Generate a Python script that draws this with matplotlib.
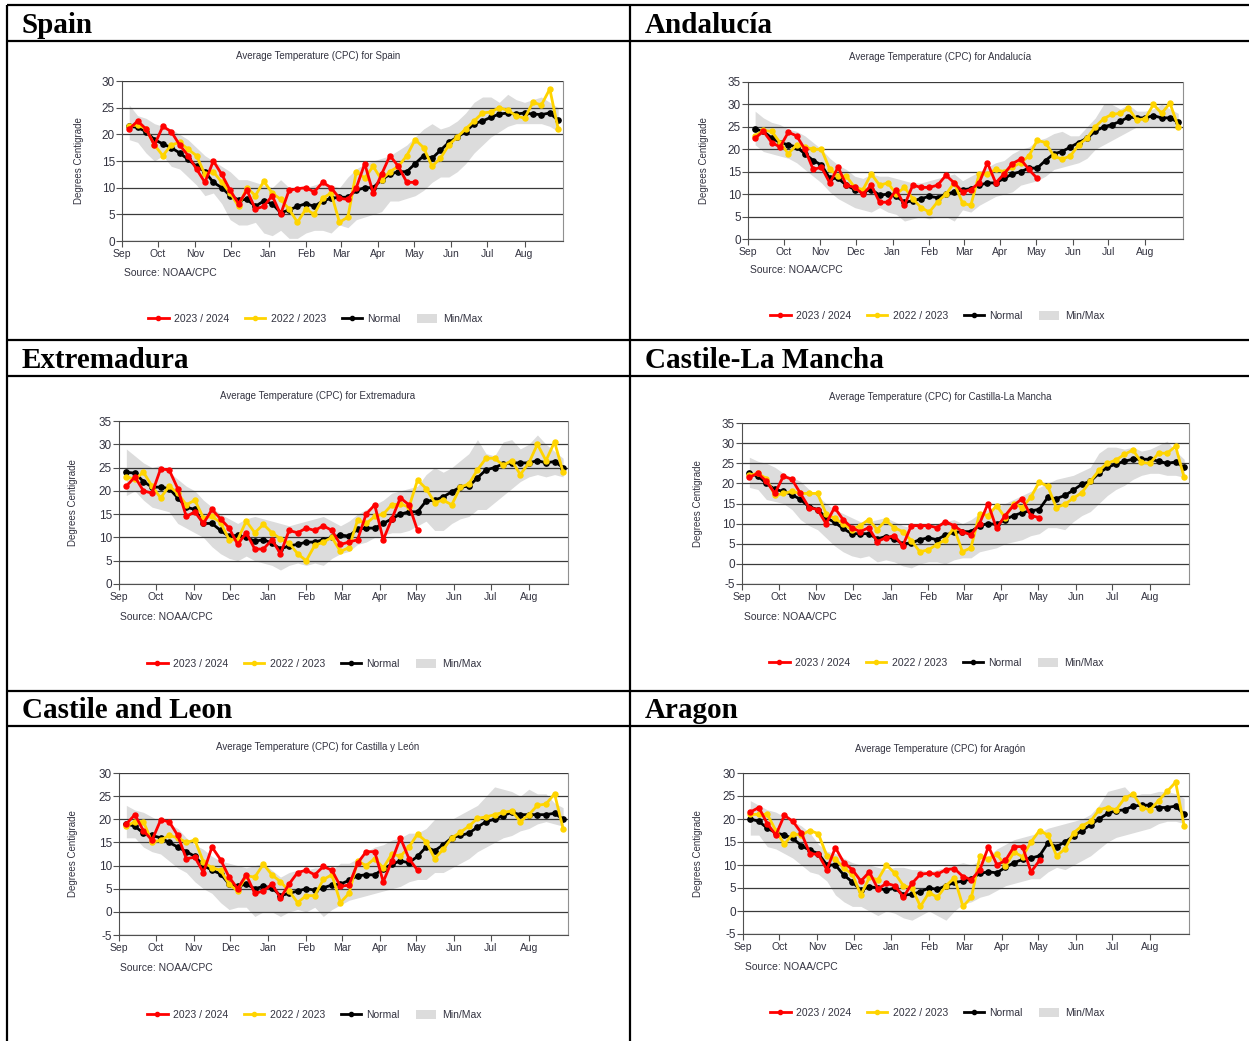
import matplotlib
matplotlib.use('Agg')
import matplotlib.pyplot as plt
from matplotlib.lines import Line2D
from matplotlib.patches import Patch
import pandas as pd

plt.rcParams['font.family'] = ['Liberation Sans', 'DejaVu Sans']
plt.rcParams['axes.unicode_minus'] = False

W, H = 1249, 1041

# weekly dates of the season (Sep -> Aug)
weeks = pd.date_range('2023-09-07', periods=52, freq='7D')
months = pd.date_range('2023-09-01', periods=12, freq='MS')
month_labels = ['Sep', 'Oct', 'Nov', 'Dec', 'Jan', 'Feb', 'Mar', 'Apr', 'May', 'Jun', 'Jul', 'Aug']
series_labels = ['2023 / 2024', '2022 / 2023', 'Normal', 'Min/Max']

# ---- Spain
spain_2324 = [21, 22.5, 21, 18, 21.5, 20.5, 18, 16, 13.5, 11, 15, 12.5, 9.5, 7, 9.5, 6, 6.5, 8.5, 5, 9.5,
              9.8, 10, 9.2, 11, 10, 8, 7.8, 10, 14.5, 9, 12.5, 16, 14, 11, 11]
spain_2223 = [21.5, 21.8, 21, 18, 16, 18, 18.5, 17.2, 16, 12.5, 13, 11, 9, 6.5, 10, 8.5, 11.2, 9, 7.8, 6,
              3.5, 6, 5, 8, 9, 3.5, 4.5, 13, 11.8, 14, 11.5, 13, 14, 16, 19, 17.5, 14, 15.5, 18, 19.5,
              21, 22.5, 24, 24.2, 25, 24.5, 23.5, 23, 26, 25.5, 28.5, 21]
spain_norm = [21.5, 21.3, 20.5, 19, 18.2, 17.5, 16.5, 15.3, 14, 13, 11, 10, 8.5, 7.7, 7.8, 6.5, 7.5, 7, 5.3, 5.8,
              6.5, 7, 6.5, 7.5, 8, 8.2, 8.2, 9.5, 10, 10, 11.5, 12.5, 13, 13, 14.5, 16, 15.5, 17, 18.5, 19.5,
              20.5, 22, 22.5, 23.2, 23.8, 24, 23.8, 24, 23.8, 23.7, 24, 22.6]
spain_max = [25.5, 23.5, 23, 22, 21.5, 21, 20, 19, 17.5, 16, 15, 14, 13, 11.5, 11.5, 11, 10.5, 10, 11.5, 10,
             9.5, 10, 10.5, 11, 10.5, 10, 12, 13.5, 14.5, 15, 15.5, 16, 17, 18, 19.5, 21, 22, 21, 21.5, 22.5,
             24, 26, 27, 27, 26, 27.5, 26.5, 26, 26.5, 27, 26, 25]
spain_min = [19, 18.5, 16.5, 15, 16, 14, 13.5, 12, 10.5, 8.5, 9, 7, 4, 3, 3, 3.5, 1.5, 1, 2, 0.5,
             0.5, 1.5, 2, 2, 1.5, 3, 2.5, 4, 4.5, 5, 5.5, 7.5, 7.5, 8, 8.5, 9.5, 11, 12, 12, 13,
             14.5, 16.5, 18, 19.5, 20.5, 21.5, 22, 22, 22, 22, 21.5, 20.5]

# ---- Andalucia
anda_2324 = [22.5, 24, 21.5, 20.5, 23.8, 23, 20, 15.5, 16, 12.5, 16, 12, 11.5, 10, 12, 8.2, 8.2, 11, 7.5, 12,
             11.5, 11.5, 12, 14.2, 12.5, 10.5, 11, 12.5, 17, 12.5, 14.5, 16.8, 17.8, 15.5, 13.5]
anda_2223 = [23, 24.2, 24, 21.5, 19, 21, 20.5, 20, 20, 15.5, 14, 14, 11.5, 11, 14.5, 12, 12.5, 10, 11.5, 9,
             7, 6, 8.3, 10, 12.5, 8, 7.5, 14.5, 14.5, 15.5, 15, 16, 17, 18.5, 22, 21.5, 18.5, 17.8, 18.5, 21,
             22.5, 25, 26.8, 27.8, 28, 29.2, 26.5, 26.8, 30, 28, 30.3, 25]
anda_norm = [24.5, 24, 22.5, 21.5, 21, 20.5, 19, 17.5, 16.5, 13.5, 13.5, 12, 11, 10.5, 11, 9.8, 10, 9.5, 8.2, 8.5,
             9, 9.5, 9.2, 10, 10.5, 11, 11.2, 12, 12.5, 12.5, 13.5, 14.5, 15, 15.8, 15.8, 17.5, 19, 19.5, 20.5, 21.5,
             22.5, 24, 25, 25.5, 26.2, 27.2, 27, 27, 27.5, 27, 27, 26]
anda_max = [28.5, 27, 26, 25.5, 24.5, 24, 23, 21.5, 20, 18, 16.5, 15.5, 14, 13.5, 14.5, 14, 14, 13.5, 13, 12.5,
            12.5, 13, 13.5, 14, 14.5, 13, 14, 15, 16, 17, 17.5, 19, 20, 20.5, 22, 22.5, 23.5, 24, 23, 23,
            25, 27, 30, 30, 29, 30, 28.5, 28.5, 29, 30, 29, 28]
anda_min = [21, 19.5, 19, 18.5, 18, 17, 15.5, 14, 12.5, 10.5, 9, 8, 7, 6.5, 6, 7, 6, 5.5, 4, 4.5,
            5, 4.5, 5, 5, 4, 6.5, 6, 7.5, 8.5, 9.5, 10, 10.5, 12, 12.5, 13, 14, 15.5, 16, 16.5, 17,
            18, 20, 21, 22, 23, 24, 25, 25, 25, 25, 25, 24.5]

# ---- Extremadura
extr_2324 = [21, 23, 20, 19.5, 24.7, 24.5, 20.5, 14.5, 15.5, 13, 16, 14, 12, 8.5, 11, 7.5, 7.5, 9.5, 6.5, 11.5,
             11, 12, 11.5, 12.5, 11.5, 8.5, 9, 9.5, 15, 17, 9.5, 14, 18.5, 17, 11.5]
extr_2223 = [23, 22.5, 24, 21, 18.5, 21, 19.5, 17, 18, 14.2, 14.5, 13.2, 9.5, 9.5, 13.5, 11, 12.8, 11, 9.7, 8.8,
             6.5, 5, 8.3, 9, 10, 7, 7.8, 13.7, 13, 14.5, 15, 17, 17.2, 16.5, 22.3, 20.5, 17.5, 18, 17, 20.8,
             21.5, 24.5, 27, 27, 25.5, 26.5, 23.5, 26, 30, 26.5, 30.5, 24]
extr_norm = [24, 23.8, 22, 20.8, 20.8, 20.5, 18.5, 16.5, 16, 13, 13, 11.5, 10.2, 10.5, 10, 9.2, 9.5, 8.8, 7.5, 8.2,
             8.5, 9, 9, 9.5, 10, 10.5, 10.3, 11.8, 12, 12, 13, 14, 15, 15.5, 15.5, 17.8, 18, 18.7, 19.8, 20.8,
             21, 22.8, 24.5, 25, 25.8, 26, 26, 26, 26.5, 26, 26.3, 25]
extr_max = [29, 27.5, 26, 25, 25.5, 24, 22.5, 21, 20, 18, 16.5, 15, 14, 13, 14, 14.5, 14, 13.5, 13, 12.5,
            13, 13.5, 14, 14.5, 13.5, 12.5, 13.5, 15, 16, 17, 18, 19.5, 20, 20.5, 21, 23.5, 25, 24, 25, 26.5,
            28, 31, 28, 27.5, 30.5, 31, 29, 30, 32, 30, 28.5, 27]
extr_min = [19, 20, 18, 16.5, 16, 15.5, 13, 12, 11, 10, 8, 6.5, 5.5, 5, 6, 5, 4.5, 4, 3, 4,
            4.5, 4, 4.5, 4, 5.5, 6.5, 7, 8.5, 9, 10, 10.5, 11, 11, 11.5, 12.5, 13.5, 11.5, 11.5, 13, 14,
            14.5, 16, 16, 17.5, 19, 20.5, 22, 23, 23.5, 23, 23.5, 23]

# ---- Castilla-La Mancha
clm_2324 = [21.5, 22.5, 20.5, 17.5, 21.8, 21, 17.5, 14, 13.5, 10, 14, 11, 9, 8, 9, 5.5, 6.5, 7, 4.5, 9.5,
            9.5, 9.5, 9, 10.5, 9.5, 8, 7.2, 10, 15, 8.8, 12, 14.5, 16.2, 12, 11.5]
clm_2223 = [22, 22.5, 21.2, 17, 17.5, 18, 17.5, 17.5, 17.5, 12.5, 11.3, 10, 8.5, 9.5, 11, 8.5, 10.8, 9, 8, 5.8,
            3, 3.5, 4.8, 6, 9, 3, 4, 12.5, 12, 14.5, 11.5, 15, 14, 16.5, 20.3, 19.3, 14, 14.8, 16.3, 17.7,
            20.5, 23.2, 25, 25.8, 27.2, 28.3, 25.2, 25, 27.5, 27.5, 29.2, 21.5]
clm_norm = [22.5, 21.8, 20, 18.5, 18, 17.2, 16, 14.2, 13.5, 11.5, 10.3, 8.8, 7.5, 7.5, 7.5, 6.2, 6.8, 6.2, 5, 5.2,
            6, 6.5, 6, 7.2, 7.8, 8, 8, 9.5, 10, 9.8, 11, 12, 12.7, 13.2, 13.5, 16.5, 16.2, 17, 18.3, 19.8,
            20.5, 22.5, 24, 24.8, 25.5, 26, 26, 26, 25.5, 25, 25.3, 24]
clm_max = [26.5, 25.5, 25, 24, 22.5, 21.5, 20.5, 18.5, 17, 15, 13.5, 12.5, 11.5, 10.5, 10.5, 11, 11.5, 10.5, 9.5, 9,
           9.5, 10, 10, 10.5, 11, 10, 11, 12.5, 13.5, 14, 15, 16, 17, 18, 19, 20, 21, 21.5, 22, 23,
           24, 27.5, 29, 29, 28.5, 29, 28, 28.5, 29.5, 30.5, 28, 26]
clm_min = [19, 18.5, 16, 15.5, 15, 13.5, 11, 9.5, 8.5, 6.5, 4.5, 3, 2, 1.5, 2, 0.5, 1, 0.5, -0.5, -1,
           0, 0.5, 0.5, 0, 1, 1.5, 1.5, 3, 3.5, 4, 5, 5.5, 6, 7, 7.5, 9, 9, 8.5, 10.5, 12,
           13, 15, 17, 18.5, 19.5, 21, 22, 22.5, 22.5, 22, 22, 21.5]

# ---- Castilla y Leon
cyl_2324 = [19, 21, 17.5, 15.5, 19.8, 19.5, 16.5, 11.5, 11.8, 8.5, 14, 11.3, 7.5, 5, 8, 4, 4.5, 6, 3, 6,
            8.5, 9, 8, 9.8, 9, 5.5, 5.8, 10.5, 13, 13, 6.5, 11, 16, 11.5, 9]
cyl_2223 = [18.5, 19.5, 19.5, 15, 15.5, 16.5, 16, 15, 15.5, 10.8, 9.5, 9, 6, 4.5, 7.8, 7.5, 10.3, 8, 6.5, 4.5,
            2, 3.5, 3.5, 7, 8, 2, 4, 11, 10, 11.5, 9.5, 12.5, 12, 14, 16.8, 15.2, 11.5, 13.5, 16, 17.2,
            18.5, 20.2, 20.5, 21, 21.5, 21.8, 19.5, 21, 23, 23.3, 25.5, 18]
cyl_norm = [19, 18.5, 17, 16.5, 16, 15, 14, 13, 12, 10, 9, 8.2, 6, 5.5, 6, 5, 5.5, 5.2, 3.5, 4,
            4.5, 5, 4.7, 5.2, 5.8, 6, 6.8, 7.8, 8, 8, 9.3, 10.3, 11, 10.6, 12, 14, 13.2, 14.5, 16, 16.5,
            17, 18.3, 19.5, 20, 20.8, 21.5, 21, 21, 21, 21, 21.3, 20]
cyl_max = [23, 22, 21.5, 20.5, 19.5, 19, 18, 16, 14.5, 13.5, 12, 11, 10.5, 10, 9.5, 10, 10.5, 9, 7.5, 8.5,
           9, 9, 9.5, 9.5, 9, 10.5, 10.5, 11.5, 13, 14, 14.5, 15.5, 16, 17, 17, 18, 20, 20, 20, 21,
           22, 23, 25, 27, 26.5, 26, 25, 26.5, 25.5, 25.5, 23.5, 22.5]
cyl_min = [16, 16, 14, 13, 12.5, 11, 9.5, 8.5, 6.5, 5, 4, 2, 0.5, 1, 1, -1, 0, 0, -1, 0,
           0.5, 0, 1, -1, 0.5, 1.5, 2.5, 3, 3.5, 4, 4.5, 5, 5.5, 6.5, 7, 7, 8.5, 8.5, 9.5, 10.5,
           11.5, 13, 14, 15, 16, 16.5, 17.5, 18, 19, 19.5, 19, 18.5]

# ---- Aragon
arag_2324 = [21.5, 22.5, 19, 16.5, 20.8, 19.5, 17, 12.5, 12.3, 9, 13.8, 10.5, 9, 6.5, 8.5, 4.8, 6, 5.5, 3, 6,
             8, 8.2, 8, 9, 9.2, 7.5, 6.8, 9, 14, 10, 11, 14, 14, 8.5, 11]
arag_2223 = [21, 21, 21, 17.5, 14.5, 16.8, 16.5, 17.5, 16.8, 12, 11.3, 9.3, 8, 3.5, 7.3, 6.8, 10, 8.2, 5.5, 5,
             1, 4, 3, 5.5, 7.2, 1, 3, 12, 11.3, 12.3, 9.8, 12.8, 11.8, 15, 17.5, 16.5, 12, 13.5, 17, 18.5,
             19.5, 22, 22.5, 22, 24.5, 25.5, 22.5, 22, 24, 26, 28, 18.5]
arag_norm = [20, 19.5, 18, 17, 16.5, 15.8, 14.2, 13.2, 12.5, 10, 10, 7.8, 6.3, 4.5, 5.3, 5, 4.5, 5, 3.5, 3.6,
             4.2, 5, 4.7, 5.5, 6.2, 6.5, 7, 8.2, 8.5, 8.3, 9.5, 10.5, 11.2, 11.5, 12, 14.8, 14, 15, 16.3, 17.5,
             18.7, 20, 21.2, 21.8, 22, 22.8, 23, 23, 22.5, 22.5, 22.8, 21]
arag_max = [24, 23, 22, 21.5, 20.5, 19.5, 18.5, 17, 14.5, 13, 12.5, 11.5, 10.5, 10, 10, 9.5, 9, 9.5, 9.5, 9,
            9, 8.5, 9, 9.5, 10, 10.5, 10, 11, 12, 13.5, 14.5, 15.5, 16, 16.5, 17, 18, 18.5, 19, 19.5, 20,
            21, 23, 26, 26.5, 27, 25, 25.5, 25.5, 26, 26, 25.5, 24.5]
arag_min = [16.5, 16.5, 14, 13.5, 12.5, 11.5, 10, 8.5, 8, 6.5, 3.5, 2, 1, 1, 0, -1, 0, -0.5, -1.5, -2,
            -1, 0, -1, -2, 0, 1.5, 2, 3, 3.5, 4.5, 5.5, 6, 6.5, 7, 7, 8.5, 9.5, 9, 10, 11,
            12, 13.5, 15, 16, 16.5, 17, 17.5, 18, 19, 19.5, 19.5, 19]

panels = [
    dict(header='Spain', name='Spain', cur=spain_2324, prev=spain_2223, norm=spain_norm,
         lo=spain_min, hi=spain_max, ylim=(0, 30)),
    dict(header='Andalucía', name='Andalucía', cur=anda_2324, prev=anda_2223, norm=anda_norm,
         lo=anda_min, hi=anda_max, ylim=(0, 35)),
    dict(header='Extremadura', name='Extremadura', cur=extr_2324, prev=extr_2223, norm=extr_norm,
         lo=extr_min, hi=extr_max, ylim=(0, 35)),
    dict(header='Castile-La Mancha', name='Castilla-La Mancha', cur=clm_2324, prev=clm_2223, norm=clm_norm,
         lo=clm_min, hi=clm_max, ylim=(-5, 35)),
    dict(header='Castile and Leon', name='Castilla y León', cur=cyl_2324, prev=cyl_2223, norm=cyl_norm,
         lo=cyl_min, hi=cyl_max, ylim=(-5, 30)),
    dict(header='Aragon', name='Aragón', cur=arag_2324, prev=arag_2223, norm=arag_norm,
         lo=arag_min, hi=arag_max, ylim=(-5, 30)),
]

# pixel layout: axes box (l, t, r, b), title, ylabel x, source, legend centre, header
layout = [
    dict(box=(122, 81, 563, 241), title=(318, 56), ylab=84, src=(124, 273), leg=(315, 319), head=(22, 33)),
    dict(box=(748, 82, 1183, 239), title=(940, 57), ylab=709, src=(750, 270), leg=(937, 316), head=(645, 33)),
    dict(box=(119, 421, 568, 584), title=(318, 396), ylab=78, src=(120, 617), leg=(314, 664), head=(22, 368)),
    dict(box=(742, 423, 1189, 584), title=(940, 397), ylab=703, src=(744, 617), leg=(936, 663), head=(645, 368)),
    dict(box=(119, 773, 568, 935), title=(318, 747), ylab=78, src=(120, 968), leg=(314, 1015), head=(22, 718)),
    dict(box=(743, 773, 1189, 934), title=(940, 749), ylab=703, src=(745, 967), leg=(937, 1013), head=(645, 718)),
]

RED = '#FF0000'
YELLOW = '#FFD400'
BAND = '#DCDCDC'
TXT = '#333340'

fig = plt.figure(figsize=(W / 100, H / 100), dpi=100)
fig.patch.set_facecolor('white')

# table frame
bg = fig.add_axes([0, 0, 1, 1], zorder=-5)
bg.set_xlim(0, W)
bg.set_ylim(H, 0)
bg.axis('off')
for y in [5, 41, 340, 376, 691, 726]:
    bg.plot([7, W], [y, y], color='black', lw=1.6, solid_capstyle='butt')
for x in [7, 630]:
    bg.plot([x, x], [5, H], color='black', lw=1.6, solid_capstyle='butt')

for p, lay in zip(panels, layout):
    l, t, r, b = lay['box']
    ax = fig.add_axes([l / W, 1 - b / H, (r - l) / W, (b - t) / H])

    ncur = len(p['cur'])
    ax.fill_between(weeks, p['lo'], p['hi'], color=BAND, lw=0, zorder=1)
    ax.plot(weeks, p['norm'], color='black', lw=2.0, marker='o', ms=3.8, zorder=4)
    ax.plot(weeks, p['prev'], color=YELLOW, lw=2.0, marker='o', ms=3.6, zorder=5)
    ax.plot(weeks[:ncur], p['cur'], color=RED, lw=2.0, marker='o', ms=3.6, zorder=6)

    ax.set_xlim(pd.Timestamp('2023-09-01'), pd.Timestamp('2024-09-02'))
    ax.set_xticks(months)
    ax.set_xticklabels(month_labels)
    lo, hi = p['ylim']
    ax.set_ylim(lo, hi)
    ax.set_yticks(range(lo, hi + 1, 5))
    ax.yaxis.grid(True, color='#3a3a3a', lw=0.9, zorder=3)
    ax.set_axisbelow(False)
    ax.spines['top'].set_visible(False)
    ax.spines['left'].set_color('#505050')
    ax.spines['bottom'].set_color('#505050')
    ax.spines['right'].set_color('#909090')
    ax.tick_params(axis='y', labelsize=8.5, colors='#505050', labelcolor=TXT, length=4, width=0.8, pad=1)
    ax.tick_params(axis='x', labelsize=7.5, colors='#505050', labelcolor=TXT, length=4, width=0.8, pad=2)

    ax.set_ylabel('Degrees Centigrade', fontsize=7, color=TXT)
    ax.yaxis.set_label_coords((lay['ylab'] - l) / (r - l), 0.5)

    fig.text(lay['title'][0] / W, 1 - lay['title'][1] / H,
             'Average Temperature (CPC) for ' + p['name'], ha='center', va='center', fontsize=7, color=TXT)
    fig.text(lay['src'][0] / W, 1 - lay['src'][1] / H, 'Source: NOAA/CPC',
             ha='left', va='center', fontsize=7.5, color=TXT)

    handles = [
        Line2D([], [], color=RED, lw=2.0, marker='o', ms=3),
        Line2D([], [], color=YELLOW, lw=2.0, marker='o', ms=3),
        Line2D([], [], color='black', lw=2.0, marker='o', ms=3),
        Patch(facecolor=BAND, edgecolor='none'),
    ]
    fig.legend(handles, series_labels, loc='center', ncol=4, frameon=False, fontsize=7.5,
               bbox_to_anchor=(lay['leg'][0] / W, 1 - lay['leg'][1] / H),
               handlelength=2.0, handleheight=0.9, handletextpad=0.5, columnspacing=1.5,
               labelcolor=TXT)

    bg.text(lay['head'][0], lay['head'][1], p['header'], fontsize=21, fontweight='bold',
            family=['Liberation Serif', 'DejaVu Serif'], va='baseline', ha='left')

fig.savefig('out.png', dpi=100)
